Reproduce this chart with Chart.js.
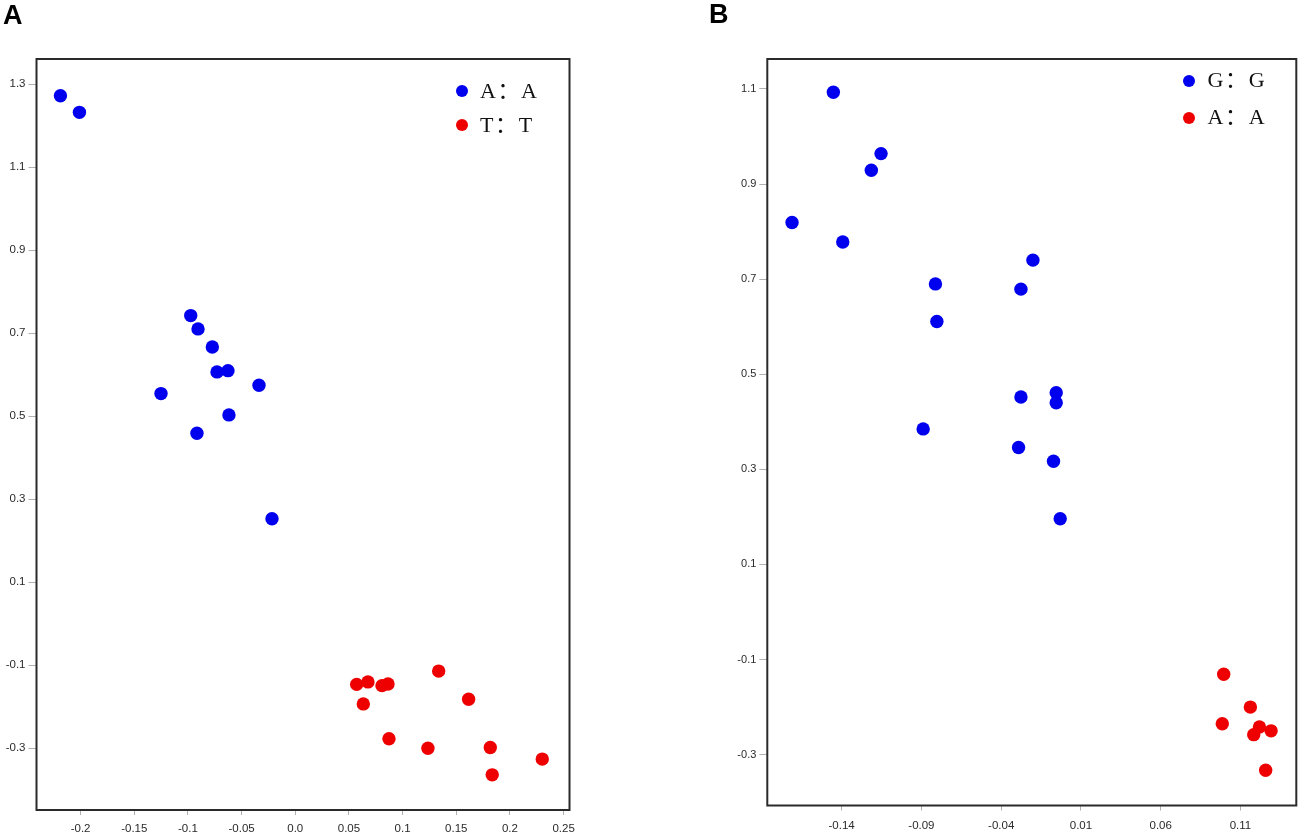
<!DOCTYPE html>
<html><head><meta charset="utf-8">
<script src="https://cdn.jsdelivr.net/npm/chart.js@4.4.0/dist/chart.umd.min.js"></script>
<style>
html,body{margin:0;padding:0;background:#fff;width:1299px;height:835px;overflow:hidden;}
.panel{position:absolute;top:0;height:835px;}
#pa{left:0;width:580px;}
#pb{left:700px;width:599px;}
.letter{position:absolute;font:bold 27px "Liberation Sans",Arial,sans-serif;line-height:27px;color:#000;}
.item{position:absolute;white-space:nowrap;font:22px "Liberation Serif","Noto Sans CJK SC",serif;line-height:22px;letter-spacing:1.6px;color:#111;}
.dot{position:absolute;width:12px;height:12px;border-radius:50%;}
</style></head><body>
<div id="pa" class="panel"><canvas id="ca"></canvas></div>
<div id="pb" class="panel"><canvas id="cb"></canvas></div>
<div class="letter" style="left:3px;top:2px">A</div>
<div class="letter" style="left:709px;top:1px">B</div>
<div id="legends"></div>
<script>
// ---------- Panel A data ----------
const aSeriesNames = ['A：A', 'T：T'];
const aBlueX = [-0.2188, -0.2011, -0.0974, -0.0906, -0.0773, -0.0729, -0.0627, -0.1251, -0.0338, -0.0618, -0.0916, -0.0217];
const aBlueY = [1.2725, 1.2325, 0.7427, 0.7106, 0.667, 0.607, 0.610, 0.5547, 0.575, 0.5034, 0.459, 0.253];
const aRedX = [0.0572, 0.0677, 0.0808, 0.0864, 0.0634, 0.1336, 0.1615, 0.0873, 0.1236, 0.1817, 0.1835, 0.2301];
const aRedY = [-0.146, -0.140, -0.149, -0.145, -0.193, -0.114, -0.182, -0.277, -0.300, -0.298, -0.364, -0.326];
const aXTicks = [-0.2, -0.15, -0.1, -0.05, 0, 0.05, 0.1, 0.15, 0.2, 0.25];
const aXTickLabels = ['-0.2', '-0.15', '-0.1', '-0.05', '0.0', '0.05', '0.1', '0.15', '0.2', '0.25'];
const aYTicks = [-0.3, -0.1, 0.1, 0.3, 0.5, 0.7, 0.9, 1.1, 1.3];
const aYTickLabels = ['-0.3', '-0.1', '0.1', '0.3', '0.5', '0.7', '0.9', '1.1', '1.3'];

// ---------- Panel B data ----------
const bSeriesNames = ['G：G', 'A：A'];
const bBlueX = [-0.1452, -0.1153, -0.1214, -0.1711, -0.1393, -0.0201, -0.0812, -0.0276, -0.0803, -0.0889, -0.0276, -0.0055, -0.0055, -0.0291, -0.0072, -0.0030];
const bBlueY = [1.093, 0.964, 0.929, 0.819, 0.778, 0.740, 0.690, 0.679, 0.611, 0.385, 0.452, 0.461, 0.440, 0.346, 0.317, 0.196];
const bRedX = [0.0995, 0.1162, 0.0986, 0.1219, 0.1183, 0.1292, 0.1258];
const bRedY = [-0.131, -0.200, -0.235, -0.242, -0.258, -0.250, -0.333];
const bXTicks = [-0.14, -0.09, -0.04, 0.01, 0.06, 0.11];
const bXTickLabels = ['-0.14', '-0.09', '-0.04', '0.01', '0.06', '0.11'];
const bYTicks = [-0.3, -0.1, 0.1, 0.3, 0.5, 0.7, 0.9, 1.1];
const bYTickLabels = ['-0.3', '-0.1', '0.1', '0.3', '0.5', '0.7', '0.9', '1.1'];

const BLUE = '#0000ee';
const RED = '#ee0000';

const framePlugin = {
  id: 'frame',
  afterDraw(chart) {
    const a = chart.chartArea, ctx = chart.ctx;
    ctx.save();
    ctx.strokeStyle = '#2a2a2a';
    ctx.lineWidth = 2;
    ctx.strokeRect(a.left, a.top, a.right - a.left, a.bottom - a.top);
    ctx.restore();
  }
};

function pts(xs, ys) { return xs.map((x, i) => ({ x: x, y: ys[i] })); }

function makeChart(id, names, sets, xr, yr, xT, xL, yT, yL, g) {
  return new Chart(document.getElementById(id), {
    type: 'scatter',
    data: {
      datasets: sets.map((s, i) => ({
        label: names[i],
        data: pts(s.x, s.y),
        backgroundColor: s.color,
        borderColor: s.color,
        borderWidth: 0,
        pointRadius: 6.7,
        pointHoverRadius: 6.7
      }))
    },
    options: {
      responsive: true,
      maintainAspectRatio: false,
      animation: false,
      events: [],
      layout: { autoPadding: false, padding: { left: 0, top: g.top, right: g.right, bottom: 0 } },
      plugins: { legend: { display: false }, tooltip: { enabled: false } },
      scales: {
        x: {
          type: 'linear', min: xr[0], max: xr[1],
          afterBuildTicks: s => { s.ticks = xT.map(v => ({ value: v })); },
          afterFit: s => { s.height = g.xh; s.paddingLeft = 0; s.paddingRight = 0; },
          ticks: { autoSkip: false, maxRotation: 0, callback: (v, i) => xL[i],
                   font: { family: 'Liberation Sans', size: g.xf }, color: '#2a2a2a', padding: g.xpad },
          grid: { drawOnChartArea: false, drawTicks: true, tickLength: 5, color: '#b0b0b0' },
          border: { display: false }
        },
        y: {
          type: 'linear', min: yr[0], max: yr[1],
          afterBuildTicks: s => { s.ticks = yT.map(v => ({ value: v })); },
          afterFit: s => { s.width = g.yw; s.paddingTop = 0; s.paddingBottom = 0; },
          ticks: { autoSkip: false, callback: (v, i) => yL[i],
                   font: { family: 'Liberation Sans', size: g.yf }, color: '#2a2a2a', padding: 3 },
          grid: { drawOnChartArea: false, drawTicks: true, tickLength: 8, color: '#b0b0b0' },
          border: { display: false }
        }
      }
    },
    plugins: [framePlugin]
  });
}

makeChart('ca', aSeriesNames,
  [{ x: aBlueX, y: aBlueY, color: BLUE }, { x: aRedX, y: aRedY, color: RED }],
  [-0.2411, 0.2555], [-0.4487, 1.361],
  aXTicks, aXTickLabels, aYTicks, aYTickLabels,
  { top: 59, right: 10.5, xh: 25, yw: 36.5, xf: 11.5, yf: 11.5, xpad: 7 });

makeChart('cb', bSeriesNames,
  [{ x: bBlueX, y: bBlueY, color: BLUE }, { x: bRedX, y: bRedY, color: RED }],
  [-0.1866, 0.145], [-0.407, 1.163],
  bXTicks, bXTickLabels, bYTicks, bYTickLabels,
  { top: 59, right: 2.7, xh: 29.5, yw: 67.3, xf: 11.5, yf: 11, xpad: 8 });

// ---------- legends (HTML text) ----------
function legend(names, colors, dotX, textX, y0, dy) {
  const host = document.getElementById('legends');
  names.forEach((n, i) => {
    const cy = y0 + i * dy;
    const d = document.createElement('div');
    d.className = 'dot';
    d.style.left = (dotX - 6) + 'px';
    d.style.top = (cy - 6) + 'px';
    d.style.background = colors[i];
    host.appendChild(d);
    const t = document.createElement('div');
    t.className = 'item';
    t.style.left = textX + 'px';
    t.style.top = (cy - 11.1) + 'px';
    t.textContent = n;
    host.appendChild(t);
  });
}
legend(aSeriesNames, [BLUE, RED], 461.7, 480, 90.7, 34.6);
legend(bSeriesNames, [BLUE, RED], 1189, 1207.6, 80.5, 37);
</script>
</body></html>
